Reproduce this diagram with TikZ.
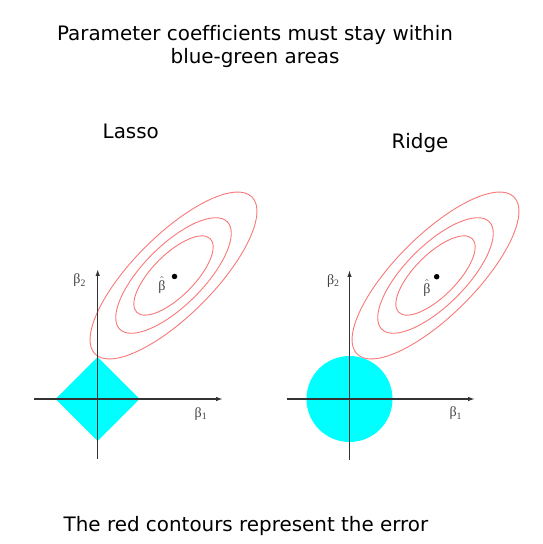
\documentclass[tikz,border=0pt]{standalone}
\usepackage{fontspec}
\setmainfont{DejaVu Sans}[Ligatures=NoCommon]
\newfontfamily\greekfont{Liberation Serif}
\usepackage{amsmath}
\usepackage{xcolor}
\usepackage{tikz}
\usetikzlibrary{arrows.meta}
\definecolor{contourred}{RGB}{248,120,120}
\definecolor{areacyan}{RGB}{0,255,255}

\begin{document}
\begin{tikzpicture}[x=1pt, y=1pt,
   caption/.style={font=\fontsize{19.9}{24}\selectfont, inner sep=0pt, anchor=base},
   axis/.style={draw=black!80, line width=1.3pt, -{Latex[length=7pt,width=4.5pt]}},
   region/.style={fill=areacyan, draw=none},
   contour/.style={draw=contourred, line width=0.9pt},
   betalab/.style={font=\greekfont\fontsize{14}{16}\selectfont, inner sep=0pt, text=black!75},
   estdot/.style={circle, fill=black, inner sep=0pt, minimum size=5.5pt}]
  \useasboundingbox (0,0) rectangle (543,544);

  % texts
  \node[caption] (title1) at (255,503) {Parameter coefficients must stay within};
  \node[caption] (title2) at (255,480.7) {blue-green areas};
  \node[caption] (lasso) at (130.8,405.7) {Lasso};
  \node[caption] (ridge) at (420,395.7) {Ridge};
  \node[caption] (note) at (246,12.3) {The red contours represent the error};

  % lasso panel
  \coordinate (o1) at (97.7,145);
  \coordinate (e1) at (173.5,268.5);
  \fill[region] (o1) ++(-42,0) -- ++(42,42) -- ++(42,-42) -- ++(-42,-42) -- cycle;
  \foreach \a/\b in {111/40, 76/30, 52/21}
    \draw[contour, rotate around={45:(e1)}] (e1) ellipse [x radius=\a, y radius=\b];
  \coordinate (xa1) at (34,145);
  \coordinate (xb1) at (223,145);
  \coordinate (ya1) at (97.7,85);
  \coordinate (yb1) at (97.7,275);
  \draw[axis] (xa1) -- (xb1);
  \draw[axis] (ya1) -- (yb1);
  \node[estdot] (dot1) at (174.5,267.5) {};
  \node[betalab, anchor=base] (bhat1) at (162,253.5) {$\hat{\text{β}}$};
  \node[betalab, anchor=base] (b2l) at (79.7,260) {β\textsubscript{2}};
  \node[betalab, anchor=base] (b1l) at (201,126.5) {β\textsubscript{1}};

  % ridge panel
  \coordinate (o2) at (349.5,145);
  \coordinate (e2) at (435.5,268.5);
  \fill[region] (o2) circle [radius=43];
  \foreach \a/\b in {111/40, 76/30, 52/21}
    \draw[contour, rotate around={45:(e2)}] (e2) ellipse [x radius=\a, y radius=\b];
  \coordinate (xa2) at (286.7,145);
  \coordinate (xb2) at (475,145);
  \coordinate (ya2) at (349.5,84);
  \coordinate (yb2) at (349.5,274);
  \draw[axis] (xa2) -- (xb2);
  \draw[axis] (ya2) -- (yb2);
  \node[estdot] (dot2) at (436.7,267.3) {};
  \node[betalab, anchor=base] (bhat2) at (427,250.5) {$\hat{\text{β}}$};
  \node[betalab, anchor=base] (b2r) at (333.3,259.5) {β\textsubscript{2}};
  \node[betalab, anchor=base] (b1r) at (455.8,127) {β\textsubscript{1}};
\end{tikzpicture}
\end{document}
